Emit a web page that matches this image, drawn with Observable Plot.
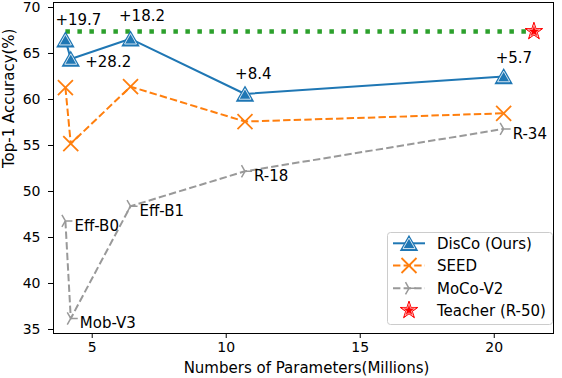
<!DOCTYPE html>
<html><head><meta charset="utf-8">
<script src="https://cdn.jsdelivr.net/npm/d3@7"></script>
<script src="https://cdn.jsdelivr.net/npm/@observablehq/plot@0.6"></script>
<style>
body{margin:0;background:#fff;}
#wrap{position:relative;width:562px;height:378px;}
#wrap svg{font-family:"DejaVu Sans",sans-serif;}
#wrap g[aria-label$="tick label"], #wrap g[aria-label$="tick label"] text{font-size:14px !important;fill:#000;}
#legend{position:absolute;left:0;top:0;pointer-events:none;}
</style></head><body><div id="wrap"></div>
<script>
// ---- data ----
const models = ["Eff-B0", "Mob-V3", "Eff-B1", "R-18", "R-34"];
const params = [4.0, 4.2, 6.43, 10.7, 20.35];
const disco = [66.5, 64.4, 66.6, 60.6, 62.5];
const seed = [61.3, 55.2, 61.4, 57.6, 58.5];
const moco = [46.8, 36.2, 48.4, 52.2, 56.8];
const gains = ["+19.7", "+28.2", "+18.2", "+8.4", "+5.7"];
const teacherParams = [21.48];
const teacherAcc = [67.4];
const seriesNames = ["DisCo (Ours)", "SEED", "MoCo-V2", "Teacher (R-50)"];
const xTicks = [5, 10, 15, 20];
const yTicks = [35, 40, 45, 50, 55, 60, 65, 70];

// ---- styles ----
const C = {disco: "#1f77b4", seed: "#ff7f0e", moco: "#999999", green: "#2ca02c", red: "#ff0000"};
const gainOffsets = [
  {dx: 13, dy: -20, anchor: "middle"},
  {dx: 14.5, dy: 3.5, anchor: "start"},
  {dx: 11.5, dy: -22.5, anchor: "middle"},
  {dx: 8.3, dy: -19.5, anchor: "middle"},
  {dx: 10.2, dy: -18.5, anchor: "middle"}
];

// custom marker symbols
const triSym = {draw(ctx, size){ const r = Math.sqrt(size/Math.PI); ctx.moveTo(0,-r*0.875); ctx.lineTo(r,r*0.875); ctx.lineTo(-r,r*0.875); ctx.closePath(); }};
const xSym = {draw(ctx, size){ const r = Math.sqrt(size/Math.PI); ctx.moveTo(-r,-r); ctx.lineTo(r,r); ctx.moveTo(-r,r); ctx.lineTo(r,-r); }};
const triRight = {draw(ctx, size){ const r = Math.sqrt(size/Math.PI); ctx.moveTo(0,0); ctx.lineTo(r,0); ctx.moveTo(0,0); ctx.lineTo(-r/2,-0.866*r); ctx.moveTo(0,0); ctx.lineTo(-r/2,0.866*r); }};

const idx = d3.range(models.length);
const X = i => params[i];
const teacherIdx = d3.range(teacherParams.length);
const greenLine = [0, 1].map(k => ({x: k === 0 ? params[0] : teacherParams[0], y: teacherAcc[0]}));

const chart = Plot.plot({
  width: 562, height: 378,
  marginLeft: 53, marginRight: 9, marginTop: 2, marginBottom: 45,
  style: {fontFamily: "DejaVu Sans, sans-serif", fontSize: "14px", color: "#000", background: "#fff"},
  x: {domain: [3.556, 22.21], ticks: xTicks},
  y: {domain: [34.565, 70.543], ticks: yTicks},
  marks: [
    Plot.axisX({ticks: xTicks, tickSize: 5, tickPadding: 4, label: null, fontSize: 14}),
    Plot.axisY({ticks: yTicks, tickSize: 5, tickPadding: 8, label: null, fontSize: 14}),
    Plot.text(["Numbers of Parameters(Millions)"], {frameAnchor: "bottom", dy: 35, dx: 3, lineAnchor: "middle", fontSize: 15, fill: "#000"}),
    Plot.text(["Top-1 Accuracy(%)"], {frameAnchor: "left", dx: -44.5, rotate: -90, lineAnchor: "middle", fontSize: 15, fill: "#000"}),
    // lines
    Plot.line(idx, {x: X, y: i => moco[i], stroke: C.moco, strokeWidth: 2, strokeDasharray: "7.4,3.2", strokeLinecap: "butt"}),
    Plot.line(idx, {x: X, y: i => seed[i], stroke: C.seed, strokeWidth: 2, strokeDasharray: "7.4,3.2", strokeLinecap: "butt"}),
    Plot.line(idx, {x: X, y: i => disco[i], stroke: C.disco, strokeWidth: 2}),
    Plot.line(greenLine, {x: "x", y: "y", stroke: C.green, strokeWidth: 4.5, strokeDasharray: "4.5,7.5", strokeLinecap: "butt"}),
    // markers
    Plot.dot(idx, {x: X, y: i => moco[i], symbol: triRight, r: 7, fill: "none", stroke: C.moco, strokeWidth: 1.5}),
    Plot.dot(idx, {x: X, y: i => seed[i], symbol: xSym, r: 7.5, fill: "none", stroke: C.seed, strokeWidth: 1.8}),
    Plot.dot(idx, {x: X, y: i => disco[i], symbol: triSym, r: 8, fill: C.disco, stroke: C.disco, strokeWidth: 1.5}),
    Plot.dot(idx, {x: X, y: i => disco[i], symbol: triSym, r: 6, fill: "none", stroke: "#fff", strokeWidth: 0.8}),
    Plot.dot(teacherIdx, {x: i => teacherParams[i], y: i => teacherAcc[i], symbol: "star", r: 5.5, fill: C.red, stroke: C.red, strokeWidth: 1}),
    Plot.dot(teacherIdx, {x: i => teacherParams[i], y: i => teacherAcc[i], symbol: "star", r: 4, fill: "none", stroke: "#fff", strokeWidth: 0.6}),
    // labels
    Plot.text(idx, {x: X, y: i => moco[i], text: i => models[i], dx: 9, dy: 5, textAnchor: "start", lineAnchor: "middle", fontSize: 15, fill: "#000"}),
    ...idx.map(i => Plot.text([i], {x: X, y: j => disco[j], text: j => gains[j], dx: gainOffsets[i].dx, dy: gainOffsets[i].dy, textAnchor: gainOffsets[i].anchor, lineAnchor: "middle", fontSize: 15, fill: "#000"})),
    Plot.frame({stroke: "#000", strokeWidth: 1})
  ]
});
d3.select(chart).selectAll('g[aria-label="x-axis tick"], g[aria-label="y-axis tick"]').attr("stroke", "#000");
const wrap = document.getElementById("wrap");
wrap.appendChild(chart);

// ---- legend overlay ----
const lg = d3.select(wrap).append("svg").attr("id", "legend").attr("width", 562).attr("height", 378);
lg.append("rect").attr("x", 387.5).attr("y", 232.5).attr("width", 165).attr("height", 92).attr("rx", 3)
  .attr("fill", "#fff").attr("fill-opacity", 0.8).attr("stroke", "#cccccc");
const legendRows = [
  {name: seriesNames[0], color: C.disco, dash: null, line: true},
  {name: seriesNames[1], color: C.seed, dash: "7.4,3.2", line: true},
  {name: seriesNames[2], color: C.moco, dash: "7.4,3.2", line: true},
  {name: seriesNames[3], color: C.red, dash: null, line: false}
];
const rowY = [243.3, 265.5, 288.3, 310.3];
const sym = (type, r) => d3.symbol().type(type).size(Math.PI * r * r)();
legendRows.forEach((row, k) => {
  const g = lg.append("g").attr("transform", `translate(0,${rowY[k]})`);
  if (row.line) g.append("line").attr("x1", 393).attr("x2", 425).attr("y1", 0).attr("y2", 0)
    .attr("stroke", row.color).attr("stroke-width", 2).attr("stroke-dasharray", row.dash);
  const m = g.append("g").attr("transform", "translate(409,0)");
  if (k === 0) {
    m.append("path").attr("d", sym(triSym, 8)).attr("fill", C.disco).attr("stroke", C.disco).attr("stroke-width", 1.5);
    m.append("path").attr("d", sym(triSym, 6)).attr("fill", "none").attr("stroke", "#fff").attr("stroke-width", 0.8);
  } else if (k === 1) {
    m.append("path").attr("d", sym(xSym, 7.5)).attr("fill", "none").attr("stroke", C.seed).attr("stroke-width", 1.8);
  } else if (k === 2) {
    m.append("path").attr("d", sym(triRight, 7)).attr("fill", "none").attr("stroke", C.moco).attr("stroke-width", 1.5);
  } else {
    m.append("path").attr("d", sym(d3.symbolStar, 5.5)).attr("fill", C.red).attr("stroke", C.red).attr("stroke-width", 1);
    m.append("path").attr("d", sym(d3.symbolStar, 4)).attr("fill", "none").attr("stroke", "#fff").attr("stroke-width", 0.6);
  }
  g.append("text").attr("x", 437).attr("y", 5.4).attr("font-size", 15).attr("fill", "#000").text(row.name);
});
</script></body></html>
